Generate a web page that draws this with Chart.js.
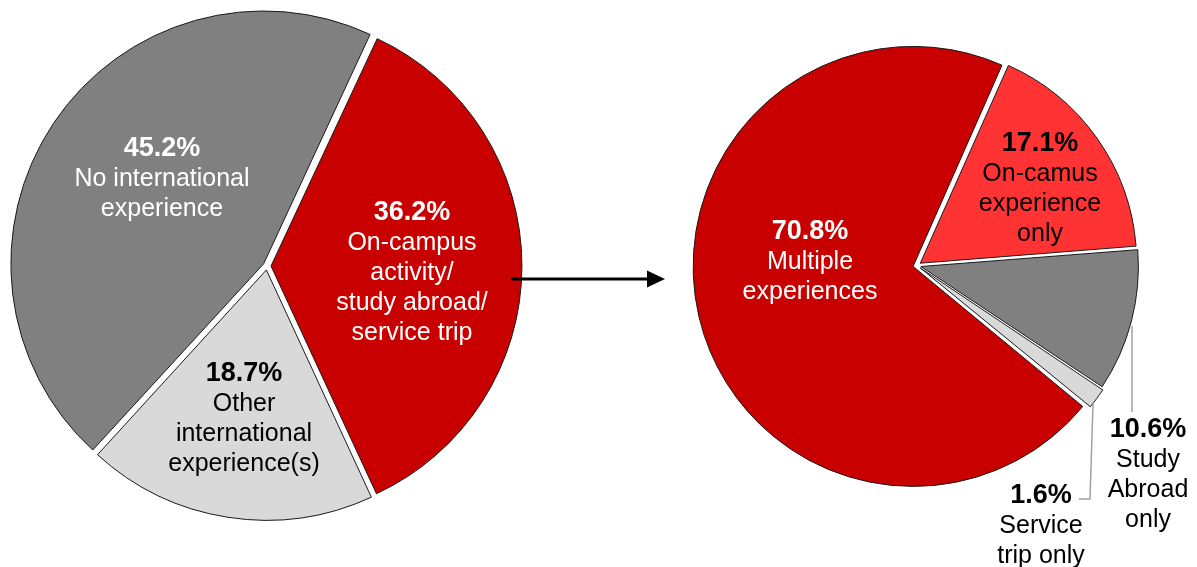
<!DOCTYPE html>
<html>
<head>
<meta charset="utf-8">
<script src="https://cdn.jsdelivr.net/npm/chart.js@4.4.1/dist/chart.umd.min.js"></script>
<style>
  html, body { margin: 0; padding: 0; background: #fff; overflow: hidden; }
  #wrap { position: relative; width: 1197px; height: 567px; }
  #wrap canvas { position: absolute; left: 0; top: 0; }
</style>
</head>
<body>
<div id="wrap">
  <canvas id="overall" width="1197" height="567"></canvas>
  <canvas id="breakdown" width="1197" height="567"></canvas>
</div>
<script>
// Overall split of students by international experience (percent)
const overallLabels = [
  ["On-campus", "activity/", "study abroad/", "service trip"],
  ["Other", "international", "experience(s)"],
  ["No international", "experience"]
];
const overallValues = [36.2, 18.7, 45.2];
const overallColors = ["#C80000", "#D9D9D9", "#808080"];

// Breakdown of the on-campus / study abroad / service trip group (percent)
const breakdownLabels = [
  ["On-camus", "experience", "only"],
  ["Study", "Abroad", "only"],
  ["Service", "trip only"],
  ["Multiple", "experiences"]
];
const breakdownValues = [17.1, 10.6, 1.6, 70.8];
const breakdownColors = ["#FF3333", "#808080", "#D9D9D9", "#C80000"];

const FONT = '"Liberation Sans", Arial, Helvetica, sans-serif';

// Where each slice's text block sits (centre of its first line)
const overallSpots = [
  { x: 412, y: 213, color: "#FFFFFF" },
  { x: 244, y: 374, color: "#000000" },
  { x: 162, y: 149, color: "#FFFFFF" }
];
const breakdownSpots = [
  { x: 1040, y: 144, color: "#000000" },
  { x: 1148, y: 430, color: "#000000" },
  { x: 1041, y: 496, color: "#000000" },
  { x: 810, y: 232, color: "#FFFFFF" }
];

function labelPlugin(spots) {
  return {
    id: "sliceLabels",
    afterDatasetsDraw(chart) {
      const ctx = chart.ctx;
      const values = chart.data.datasets[0].data;
      ctx.save();
      ctx.textAlign = "center";
      ctx.textBaseline = "middle";
      spots.forEach((s, i) => {
        const lines = [values[i].toFixed(1) + "%"].concat(chart.data.labels[i]);
        ctx.fillStyle = s.color;
        lines.forEach((t, k) => {
          ctx.font = (k === 0 ? "bold 27px " : "25px ") + FONT;
          ctx.fillText(t, s.x, s.y + k * 30);
        });
      });
      ctx.restore();
    }
  };
}

// Arrow leading from the combined slice to its breakdown
const arrowPlugin = {
  id: "linkArrow",
  afterDraw(chart) {
    const ctx = chart.ctx;
    ctx.save();
    ctx.strokeStyle = "#000";
    ctx.fillStyle = "#000";
    ctx.lineWidth = 3;
    ctx.beginPath();
    ctx.moveTo(511, 279);
    ctx.lineTo(650, 279);
    ctx.stroke();
    ctx.beginPath();
    ctx.moveTo(665, 279);
    ctx.lineTo(647, 270.5);
    ctx.lineTo(647, 287.5);
    ctx.closePath();
    ctx.fill();
    ctx.restore();
  }
};

// Leader lines for the two thin slices
const leaderPlugin = {
  id: "leaders",
  afterDatasetsDraw(chart) {
    const ctx = chart.ctx;
    ctx.save();
    ctx.strokeStyle = "#A0A0A0";
    ctx.lineWidth = 1.5;
    ctx.beginPath();
    ctx.moveTo(1132, 326);
    ctx.lineTo(1132, 412);
    ctx.stroke();
    ctx.beginPath();
    ctx.moveTo(1093, 404);
    ctx.lineTo(1090, 499);
    ctx.lineTo(1079, 499);
    ctx.stroke();
    ctx.restore();
  }
};

function pieChart(id, labels, values, colors, rotation, radius, padding, plugins) {
  return new Chart(document.getElementById(id), {
    type: "pie",
    data: {
      labels: labels,
      datasets: [{
        data: values,
        backgroundColor: colors,
        borderColor: "#1A1A1A",
        borderWidth: 1,
        borderJoinStyle: "miter",
        offset: 16,
        hoverOffset: 0
      }]
    },
    options: {
      responsive: false,
      animation: false,
      events: [],
      rotation: rotation,
      radius: radius,
      layout: { padding: padding },
      plugins: {
        legend: { display: false },
        tooltip: { enabled: false },
        title: { display: false }
      }
    },
    plugins: plugins
  });
}

pieChart("overall", overallLabels, overallValues, overallColors, 25, 250,
  { left: 0, top: 0, right: 663, bottom: 35 },
  [labelPlugin(overallSpots), arrowPlugin]);

pieChart("breakdown", breakdownLabels, breakdownValues, breakdownColors, 24, 216,
  { left: 637, top: 0, right: 0, bottom: 36 },
  [labelPlugin(breakdownSpots), leaderPlugin]);
</script>
</body>
</html>
